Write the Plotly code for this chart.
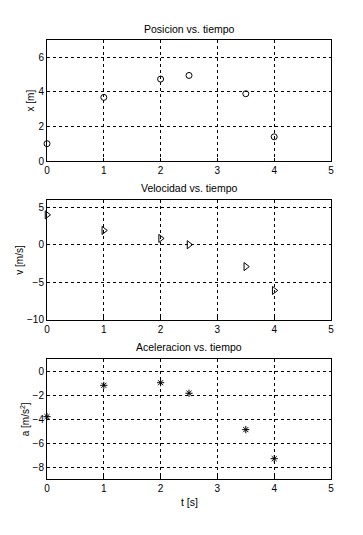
import plotly.graph_objects as go

t = [0, 1, 2, 2.5, 3.5, 4]
posicion = [1.0, 3.68, 4.74, 4.95, 3.89, 1.4]
velocidad = [3.98, 1.9, 0.84, 0.0, -2.92, -6.1]
aceleracion = [-3.78, -1.17, -0.95, -1.83, -4.86, -7.28]

titles = ["Posicion vs. tiempo", "Velocidad vs. tiempo", "Aceleracion vs. tiempo"]
ylabels = ["x [m]", "v [m/s]", "a [m/s<sup>2</sup>]"]
xlabel = "t [s]"
yranges = [[0, 7], [-10, 6], [-9, 1]]
ytickvals = [[0, 2, 4, 6], [-10, -5, 0, 5], [-8, -6, -4, -2, 0]]
xtickvals = [0, 1, 2, 3, 4, 5]

W, H = 363, 535
FONT = "Liberation Sans, Arial, sans-serif"

def py(px):
    return 1 - px / H

xdom = [47 / W, 331 / W]
boxes = [(40, 161), (199.7, 319.7), (359.3, 479.3)]
title_y = [29.3, 187.7, 347.3]
ylabel_x = [30, 20, 25]

fig = go.Figure()
symbols = ["circle-open", "triangle-right-open", "asterisk-open"]
sizes = [6, 7, 6]
series = [posicion, velocidad, aceleracion]
for i in range(3):
    xa = "x" if i == 0 else f"x{i+1}"
    ya = "y" if i == 0 else f"y{i+1}"
    fig.add_trace(go.Scatter(
        x=t, y=series[i], mode="markers", xaxis=xa, yaxis=ya,
        marker=dict(symbol=symbols[i], size=sizes[i], color="black",
                    line=dict(color="black", width=1)),
        cliponaxis=False, showlegend=False))

layout = dict(width=W, height=H, margin=dict(l=0, r=0, t=0, b=0, autoexpand=False),
              paper_bgcolor="white", plot_bgcolor="white",
              font=dict(family=FONT, size=10, color="black"), showlegend=False)
annotations = []
for i in range(3):
    sfx = "" if i == 0 else str(i + 1)
    top, bot = boxes[i]
    layout["xaxis" + sfx] = dict(
        domain=xdom, range=[0, 5], tickvals=xtickvals, showgrid=True,
        gridcolor="black", griddash="3px,3px", gridwidth=1, zeroline=False,
        showline=True, linecolor="black", linewidth=1, mirror=True,
        ticks="inside", ticklen=3, tickcolor="black", automargin=False,
        anchor="y" + sfx, tickfont=dict(size=10))
    layout["yaxis" + sfx] = dict(
        domain=[py(bot), py(top)], range=yranges[i], tickvals=ytickvals[i],
        showgrid=True, gridcolor="black", griddash="3px,3px", gridwidth=1,
        zeroline=False, showline=True, linecolor="black", linewidth=1,
        mirror=True, ticks="inside", ticklen=3, tickcolor="black",
        automargin=False, anchor="x" + sfx, tickfont=dict(size=10))
    annotations.append(dict(text=titles[i], xref="paper", yref="paper",
                            x=189 / W, y=py(title_y[i]), showarrow=False,
                            xanchor="center", yanchor="middle",
                            font=dict(size=10.5)))
    annotations.append(dict(text=ylabels[i], xref="paper", yref="paper",
                            x=ylabel_x[i] / W, y=py((top + bot) / 2),
                            showarrow=False, textangle=-90,
                            xanchor="center", yanchor="middle",
                            font=dict(size=10)))
annotations.append(dict(text=xlabel, xref="paper", yref="paper",
                        x=189 / W, y=py(501.7), showarrow=False,
                        xanchor="center", yanchor="middle", font=dict(size=10.5)))
layout["annotations"] = annotations
fig.update_layout(**layout)
fig.write_html("out.html", config={"displayModeBar": False},
               post_script="document.body.style.margin='0px';document.body.style.overflow='hidden';")
